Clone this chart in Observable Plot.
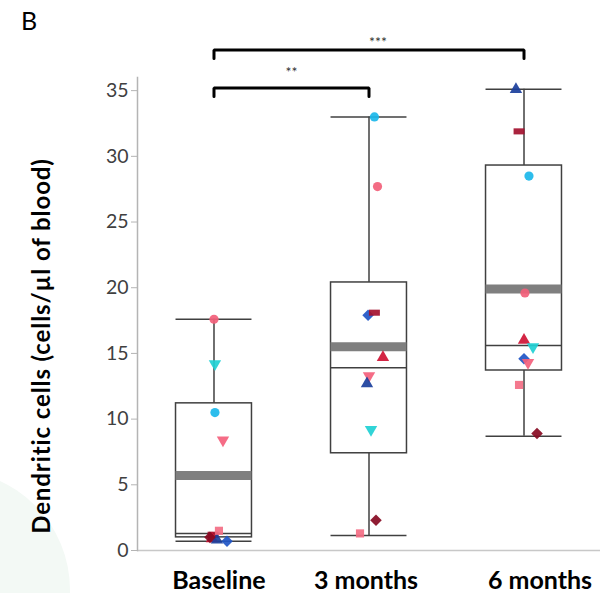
<!DOCTYPE html>
<html><head><meta charset="utf-8">
<script src="https://cdn.jsdelivr.net/npm/d3@7"></script>
<script src="https://cdn.jsdelivr.net/npm/@observablehq/plot@0.6"></script>
<style>
body{margin:0;background:#fff;}
#wrap{position:relative;width:601px;height:593px;overflow:hidden;}
#deco{position:absolute;left:-170px;top:470px;width:240px;height:240px;border-radius:50%;background:#f3f9f5;}
#panel{position:absolute;left:21px;top:5px;font:25px Lato, sans-serif;color:#000;}
#chart{position:absolute;left:0;top:0;}
#ylabel{position:absolute;left:40px;top:346px;transform:translate(-50%,-50%) rotate(-90deg);white-space:nowrap;
  font:bold 24px Lato, sans-serif;letter-spacing:0.9px;color:#000;}
</style></head><body><div id="wrap"><div id="deco"></div><div id="chart"></div><div id="panel">B</div><div id="ylabel"></div></div>
<script>
// ---- data ----
const groups = ["Baseline", "3 months", "6 months"];
const patients = ["P1","P2","P3","P4","P5","P6","P7","P8","P9","P10"];
// values per patient (same order as patients)
const baselineValues = [10.5, 17.6, 0.7, 1.2, 0.9, 8.4, 0.8, 14.2, 1.0, 1.5];
const month3Values   = [33.0, 27.7, 17.9, 18.1, 14.7, 13.3, 12.7, 9.2, 2.3, 1.3];
const month6Values   = [28.5, 19.6, 14.6, 31.9, 16.0, 14.3, 35.1, 15.5, 8.9, 12.6];
// horizontal jitter of each point, in category units
const baselineJitter = [0.006, 0.0, 0.084, -0.006, -0.013, 0.058, 0.019, 0.006, -0.026, 0.032];
const month3Jitter   = [0.035, 0.055, -0.006, 0.035, 0.09, 0.0, -0.013, 0.013, 0.045, -0.058];
const month6Jitter   = [0.032, 0.006, 0.0, -0.032, 0.0, 0.026, -0.052, 0.058, 0.084, -0.032];
// box statistics per group
const whiskerLow  = [0.7, 1.15, 8.7];
const q1          = [1.0, 7.4, 13.7];
const median      = [1.3, 13.9, 15.6];
const q3          = [11.2, 20.4, 29.3];
const whiskerHigh = [17.6, 33.0, 35.1];
const mean        = [5.7, 15.5, 19.9];
// significance brackets
const compFrom  = ["Baseline", "Baseline"];
const compTo    = ["3 months", "6 months"];
const compLevel = [35.2, 38.1];
const compLabel = ["**", "***"];
const yTicks = [0, 5, 10, 15, 20, 25, 30, 35];
const yLabel = "Dendritic cells (cells/µl of blood)";

// ---- styles ----
const triUp = {draw(ctx, size){ const s = Math.sqrt(size*4/Math.sqrt(3)), h = s*Math.sqrt(3)/2;
  ctx.moveTo(0, -2*h/3); ctx.lineTo(s/2, h/3); ctx.lineTo(-s/2, h/3); ctx.closePath(); }};
const triDown = {draw(ctx, size){ const s = Math.sqrt(size*4/Math.sqrt(3)), h = s*Math.sqrt(3)/2;
  ctx.moveTo(-s/2, -h/3); ctx.lineTo(s/2, -h/3); ctx.lineTo(0, 2*h/3); ctx.closePath(); }};
const wideRect = {draw(ctx, size){ const w = Math.sqrt(size*1.8), h = size/w; ctx.rect(-w/2, -h/2, w, h); }};
const diamond = {draw(ctx, size){ const r = Math.sqrt(size/2); ctx.moveTo(0,-r); ctx.lineTo(r,0); ctx.lineTo(0,r); ctx.lineTo(-r,0); ctx.closePath(); }};
const square = {draw(ctx, size){ const w = Math.sqrt(size); ctx.rect(-w/2,-w/2,w,w); }};
const shapes = ["circle", "circle", diamond, wideRect, triUp, triDown, triUp, triDown, diamond, square];
const colors = ["#1bb7ea", "#f2607a", "#1f55c6", "#a3102e", "#cf1234", "#f45f7c", "#1b3f9c", "#1fd0d4", "#870a22", "#f36e84"];
const halfW = 0.245;
const labelDx = [5, -3, 16];

// ---- build tables ----
const valueSets = [baselineValues, month3Values, month6Values];
const jitterSets = [baselineJitter, month3Jitter, month6Jitter];
const points = [];
valueSets.forEach((vals, g) => vals.forEach((v, k) => points.push({g, patient: patients[k], v, j: jitterSets[g][k]})));
const stats = groups.map((name, i) => ({i, name, low: whiskerLow[i], q1: q1[i], median: median[i], q3: q3[i], high: whiskerHigh[i], mean: mean[i]}));
const comps = compFrom.map((f, k) => ({a: groups.indexOf(f), b: groups.indexOf(compTo[k]), level: compLevel[k], label: compLabel[k]}));
const bracketMarks = comps.flatMap(c => {
  const leg = c.level - 0.65;
  const path = [[c.a, leg], [c.a, c.level], [c.b, c.level], [c.b, leg]];
  return [
    Plot.line(path, {x: d => d[0], y: d => d[1], stroke: "#000", strokeWidth: 3, strokeLinejoin: "miter"}),
    Plot.text([c], {x: d => (d.a + d.b) / 2, y: d => d.level, dy: c.label.length === 3 ? -7 : -15, dx: c.label.length === 3 ? 9 : 0, text: "label", fontSize: 14, fill: "#333"})
  ];
});
const boxStroke = "#404040";

const chart = Plot.plot({
  width: 601, height: 593,
  marginLeft: 137, marginRight: 1, marginTop: 77, marginBottom: 43,
  style: {fontFamily: "Lato, sans-serif", background: "transparent"},
  x: {type: "linear", domain: [-0.4935, 2.4935], axis: null},
  y: {domain: [0, 36], axis: null},
  symbol: {domain: patients, range: shapes},
  color: {domain: patients, range: colors},
  marks: [
    Plot.ruleY([0], {stroke: "#c8c8c8", strokeWidth: 1.5}),
    Plot.frame({anchor: "left", stroke: "#b4b4b4", strokeWidth: 1.5}),
    Plot.axisY({ticks: yTicks, tickSize: 6, tickPadding: 3, fontSize: 19.5, stroke: "#b4b4b4", fill: "#404040", label: null}),
    Plot.ruleX(stats, {x: "i", y1: "q3", y2: "high", stroke: boxStroke, strokeWidth: 1.5}),
    Plot.ruleX(stats, {x: "i", y1: "low", y2: "q1", stroke: boxStroke, strokeWidth: 1.5}),
    Plot.ruleY(stats, {y: "high", x1: d => d.i - halfW, x2: d => d.i + halfW, stroke: boxStroke, strokeWidth: 1.5}),
    Plot.ruleY(stats, {y: "low", x1: d => d.i - halfW, x2: d => d.i + halfW, stroke: boxStroke, strokeWidth: 1.5}),
    Plot.rect(stats, {x1: d => d.i - halfW, x2: d => d.i + halfW, y1: "q1", y2: "q3", fill: "none", stroke: boxStroke, strokeWidth: 1.5}),
    Plot.ruleY(stats, {y: "mean", x1: d => d.i - halfW, x2: d => d.i + halfW, stroke: "#7f7f7f", strokeWidth: 9}),
    Plot.ruleY(stats, {y: "median", x1: d => d.i - halfW, x2: d => d.i + halfW, stroke: boxStroke, strokeWidth: 1.5}),
    Plot.dot(points, {x: d => d.g + d.j, y: "v", symbol: "patient", fill: "patient", r: 4.6, fillOpacity: 0.92}),
    ...bracketMarks,
    ...groups.map((name, k) => Plot.text([name], {x: () => k, y: () => 0, dy: 30, dx: labelDx[k], text: d => d, fontSize: 25, fontWeight: "bold", fill: "#000"}))
  ]
});
document.getElementById("chart").appendChild(chart);
document.getElementById("ylabel").textContent = yLabel;
</script></body></html>
